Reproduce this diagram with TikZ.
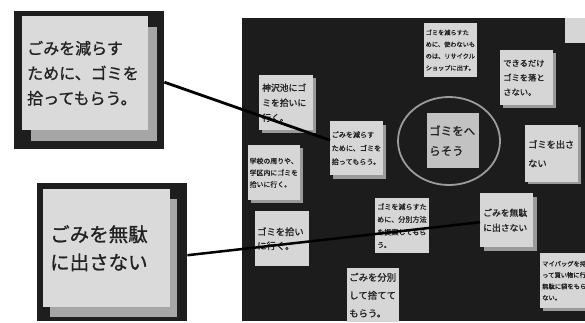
\documentclass[tikz,border=0pt]{standalone}
\usepackage{fontspec}
\newfontfamily\jpfam[FakeBold=1.0]{Noto Sans CJK JP}
\newcommand\jp{\jpfam}
\usetikzlibrary{shadows,shapes.geometric}
\definecolor{boardc}{HTML}{1C1C1C}
\definecolor{framec}{HTML}{1E1E1E}
\definecolor{bigfill}{HTML}{DADADA}
\definecolor{bigshad}{HTML}{A6A6A6}
\definecolor{notec}{HTML}{D6D6D6}
\definecolor{noteshad}{HTML}{9A9A9A}
\definecolor{darknote}{HTML}{C2C2C2}
\definecolor{ellc}{HTML}{9C9C9C}
\definecolor{textc}{HTML}{222222}
\newcommand\fsz[2]{\fontsize{#1pt}{#2pt}\selectfont}
\begin{document}
\begin{tikzpicture}[x=1pt,y=-1pt,
  frame/.style={anchor=north west, fill=framec, inner sep=0pt, draw=none},
  note/.style={anchor=north west, fill=notec, inner ysep=0pt, align=left, text=textc, draw=none},
  bignote/.style={note, fill=bigfill},
  shd/.style 2 args={general shadow={fill=noteshad, shadow xshift=#1pt, shadow yshift=-#2pt}},
  bigshd/.style 2 args={general shadow={fill=bigshad, shadow xshift=#1pt, shadow yshift=-#2pt}},
  conn/.style={draw=black, line width=2.8pt}]
\clip (0,0) rectangle (585,322);
\fill[white] (0,0) rectangle (585,322);
% board
\node[anchor=north west, fill=boardc, inner sep=0pt, minimum width=343pt, minimum height=303pt] (board) at (242,18) {};
% big callouts
\node[frame, minimum width=150pt, minimum height=138pt] (f1) at (14,11) {};
\node[bignote, bigshd={8.5}{11}, minimum width=126pt, minimum height=114pt, inner xsep=5pt, text width=116pt, font=\jp\fsz{16}{25}] (b1) at (22,16) {ごみを減らす\\ために、ゴミを\\拾ってもらう。};
\node[frame, minimum width=150pt, minimum height=138pt] (f2) at (37,183) {};
\node[bignote, bigshd={7}{10}, minimum width=127pt, minimum height=118pt, inner xsep=7pt, text width=113pt, font=\jp\fsz{19.5}{28}] (b2) at (43,189) {ごみを無駄\\に出さない};
% board notes
\node[note, shd={3}{3}, minimum width=54pt, minimum height=55pt, inner xsep=3pt, text width=48pt, font=\jp\fsz{8.8}{15}] (n1) at (259,75) {神沢池にゴ\\ミを拾いに\\行く。};
\node[note, shd={3}{3}, minimum width=52pt, minimum height=55pt, inner xsep=1.5pt, text width=49pt, font=\jp\fsz{6.9}{11.7}] (n2) at (248,145) {学校の周りや、\\学区内にゴミを\\拾いに行く。};
\node[note, minimum width=54pt, minimum height=55pt, inner xsep=2pt, text width=50pt, font=\jp\fsz{9.3}{14}] (n3) at (255,211) {ゴミを拾い\\に行く。};
\node[note, shd={3}{4}, minimum width=53pt, minimum height=54pt, inner xsep=1.5pt, text width=50pt, font=\jp\fsz{7.1}{13.5}] (n4) at (330,121) {ごみを減らす\\ために、ゴミを\\拾ってもらう。};
\node[draw=ellc, line width=1.8pt, ellipse, minimum width=102pt, minimum height=88pt, inner sep=0pt] (ell) at (449,141) {};
\node[note, fill=darknote, minimum width=52pt, minimum height=55pt, inner xsep=2pt, text width=48pt, font=\jp\fsz{11.5}{20}] (n5) at (427,113) {ゴミをへ\\らそう};
\node[note, minimum width=53pt, minimum height=54pt, inner xsep=1.5pt, text width=50pt, font=\jp\fsz{6.2}{11.8}] (n6) at (424,23) {ゴミを減らすた\\めに、使わないも\\のは、リサイクル\\ショップに出す。};
\node[note, shd={3}{3}, minimum width=53pt, minimum height=55pt, inner xsep=3pt, text width=47pt, font=\jp\fsz{8.3}{14.5}] (n7) at (500,50) {できるだけ\\ゴミを落と\\さない。};
\node[note, minimum width=30pt, minimum height=25pt, inner xsep=0pt] (n8) at (565,18) {};
\node[note, shd={3}{2}, minimum width=53pt, minimum height=57pt, inner xsep=3pt, text width=47pt, font=\jp\fsz{9.2}{19}] (n9) at (525,125) {ゴミを出さ\\ない};
\node[note, minimum width=54pt, minimum height=55pt, inner xsep=2pt, text width=50pt, font=\jp\fsz{7.1}{12.7}] (n10) at (375,198) {ゴミを減らすた\\めに、分別方法\\を提案してもら\\う。};
\node[note, shd={4}{4}, minimum width=53pt, minimum height=54pt, inner xsep=3pt, text width=47pt, font=\jp\fsz{8.8}{15}] (n11) at (480,193) {ごみを無駄\\に出さない};
\node[note, minimum width=52pt, minimum height=54pt, inner xsep=2pt, text width=48pt, font=\jp\fsz{9.4}{18}] (n12) at (347,268) {ごみを分別\\して捨てて\\もらう。};
\node[note, shd={3}{3}, minimum width=60pt, minimum height=55pt, inner xsep=2pt, text width=56pt, font=\jp\fsz{6.3}{11.3}] (n13) at (540,253) {マイバッグを持\\って買い物に行く\\無駄に袋をもらわ\\ない。};
% connectors
\draw[conn] ([yshift=-2pt]f1.east) -- ([yshift=8pt]n4.west);
\draw[conn, line width=2.5pt] ([yshift=-3pt]f2.east) -- ([yshift=-2pt]n11.west);
\end{tikzpicture}
\end{document}
